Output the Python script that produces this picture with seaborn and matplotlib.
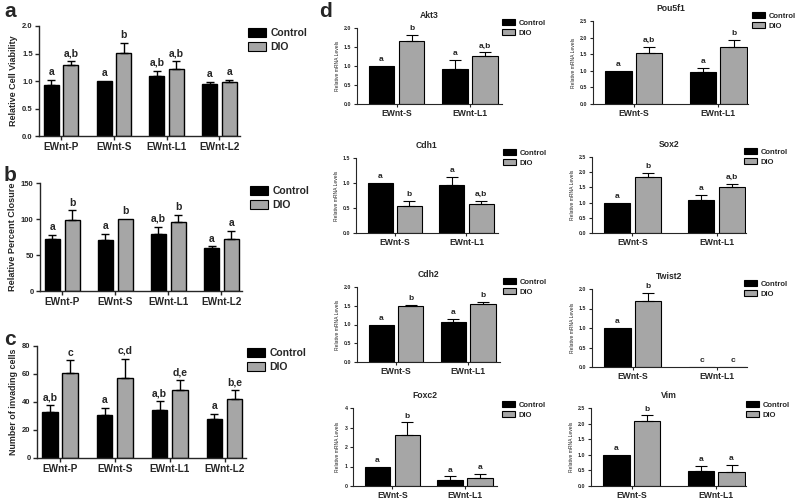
import numpy as np
import pandas as pd
import seaborn as sns
import matplotlib.pyplot as plt
from matplotlib.patches import Patch
from matplotlib.ticker import FormatStrFormatter

sns.set_style("ticks")
plt.rcParams['font.family'] = ['Liberation Sans', 'DejaVu Sans']

groups = ["Control", "DIO"]
lines_4 = ["EWnt-P", "EWnt-S", "EWnt-L1", "EWnt-L2"]
lines_2 = ["EWnt-S", "EWnt-L1"]

# panel a - relative cell viability
via_ctrl = [0.93, 1.00, 1.10, 0.95]
via_ctrl_err = [0.09, 0.0, 0.09, 0.03]
via_dio = [1.29, 1.51, 1.22, 0.98]
via_dio_err = [0.07, 0.19, 0.14, 0.04]
via_ctrl_let = ["a", "a", "a,b", "a"]
via_dio_let = ["a,b", "b", "a,b", "a"]

# panel b - relative percent closure
clo_ctrl = [72, 71, 79, 60]
clo_ctrl_err = [5.5, 8, 10.5, 2]
clo_dio = [99, 100, 95.5, 72]
clo_dio_err = [13, 0, 10, 12]
clo_ctrl_let = ["a", "a", "a,b", "a"]
clo_dio_let = ["b", "b", "b", "a"]

# panel c - number of invading cells
inv_ctrl = [32.8, 31, 34.2, 27.6]
inv_ctrl_err = [4.8, 4.8, 6.5, 4.1]
inv_dio = [61, 57.1, 48.3, 42.4]
inv_dio_err = [8.8, 13.9, 7.2, 5.9]
inv_ctrl_let = ["a,b", "a", "a,b", "a"]
inv_dio_let = ["c", "c,d", "d,e", "b,e"]

# panel d - relative mRNA levels
genes = ["Akt3", "Pou5f1", "Cdh1", "Sox2", "Cdh2", "Twist2", "Foxc2", "Vim"]
d_ctrl = [[1.0, 0.92], [1.0, 0.96], [1.0, 0.97], [1.0, 1.08],
          [1.0, 1.06], [1.0, 0.0], [1.0, 0.33], [1.0, 0.47]]
d_ctrl_err = [[0, 0.25], [0, 0.12], [0, 0.15], [0, 0.17],
              [0, 0.09], [0, 0], [0, 0.16], [0, 0.17]]
d_dio = [[1.65, 1.25], [1.55, 1.71], [0.55, 0.59], [1.83, 1.51],
         [1.50, 1.55], [1.70, 0.0], [2.62, 0.42], [2.08, 0.45]]
d_dio_err = [[0.17, 0.11], [0.18, 0.22], [0.10, 0.06], [0.16, 0.11],
             [0.03, 0.05], [0.20, 0], [0.64, 0.20], [0.18, 0.23]]
d_ctrl_let = [["a", "a"], ["a", "a"], ["a", "a"], ["a", "a"],
              ["a", "a"], ["a", "c"], ["a", "a"], ["a", "a"]]
d_dio_let = [["b", "a,b"], ["a,b", "b"], ["b", "a,b"], ["b", "a,b"],
             ["b", "b"], ["b", "c"], ["b", "a"], ["b", "a"]]
d_ymax = [2.0, 2.5, 1.5, 2.5, 2.0, 2.0, 4, 2.5]
d_ystep = [0.5, 0.5, 0.5, 0.5, 0.5, 0.5, 1, 0.5]

pal = {"Control": "black", "DIO": "#a6a6a6"}

W, H = 800, 501
fig = plt.figure(figsize=(8, 5.01), dpi=100)


def px_rect(x0, x1, y0, y1):
    return [x0 / W, 1 - y1 / H, (x1 - x0) / W, (y1 - y0) / H]


def draw(ax, cats, ctrl, ctrl_err, dio, dio_err, ctrl_let, dio_let,
         width, gap, xlim, ymax, ystep, fmt, big):
    n = len(cats)
    df = pd.DataFrame({
        "line": cats * 2,
        "group": ["Control"] * n + ["DIO"] * n,
        "mean": ctrl + dio,
        "err": ctrl_err + dio_err,
        "let": ctrl_let + dio_let,
    })
    lw = 1.0 if big else 0.8
    sns.barplot(df, x="line", y="mean", hue="group", order=cats, hue_order=groups,
                palette=pal, errorbar=None, width=width, gap=gap,
                edgecolor="black", linewidth=lw, legend=False, ax=ax)
    df["li"] = [cats.index(c) for c in df["line"]]
    df["gi"] = [groups.index(g) for g in df["group"]]
    df = df.sort_values(["li", "gi"]).reset_index(drop=True)
    bars = sorted(ax.patches, key=lambda p: p.get_x())
    cap = 3 if big else 4.5
    lsize = 7.5 if big else 6
    for p, (_, row) in zip(bars, df.iterrows()):
        x = p.get_x() + p.get_width() / 2
        top = row["mean"]
        if row["err"] > 0:
            ax.errorbar([x], [top], yerr=[[0], [row["err"]]], fmt="none",
                        ecolor="black", elinewidth=lw, capsize=cap, capthick=lw)
        ax.annotate(row["let"], (x, top + row["err"]), xytext=(0, 2),
                    textcoords="offset points", ha="center", va="bottom",
                    fontsize=lsize, fontweight="bold")
    ax.set_xlim(*xlim)
    ax.set_ylim(0, ymax)
    ax.set_yticks(np.arange(0, ymax + ystep / 2, ystep))
    ax.yaxis.set_major_formatter(FormatStrFormatter(fmt))
    ax.set_xlabel("")
    sns.despine(ax=ax)
    for s in ["left", "bottom"]:
        ax.spines[s].set_linewidth(lw)
    ax.tick_params(direction="out", length=3 if big else 2.5, width=lw, pad=1.5)
    ax.tick_params(axis="x", labelsize=7.2 if big else 6.2, pad=1.5 if big else 0.8)
    ax.tick_params(axis="y", labelsize=5.5 if big else 3.8)
    for t in ax.get_xticklabels():
        t.set_fontweight("bold")
    for t in ax.get_yticklabels():
        t.set_fontweight("bold")


def add_legend(ax, x, y, big):
    handles = [Patch(facecolor=pal[g], edgecolor="black", linewidth=0.8, label=g) for g in groups]
    leg = ax.legend(handles=handles, loc="upper left", bbox_to_anchor=(x / W, 1 - y / H),
                    bbox_transform=fig.transFigure, frameon=False, borderpad=0,
                    borderaxespad=0, handlelength=1.7 if big else 1.7,
                    handleheight=1.0 if big else 0.9,
                    handletextpad=0.45 if big else 0.5,
                    labelspacing=0.35 if big else 0.3,
                    prop={"size": 7.5 if big else 5.5, "weight": "bold"})
    return leg


# left column
ax_a = fig.add_axes(px_rect(39, 240, 26, 136))
draw(ax_a, lines_4, via_ctrl, via_ctrl_err, via_dio, via_dio_err, via_ctrl_let, via_dio_let,
     0.74, 0.24, (-0.42, 3.39), 2.0, 0.5, "%.1f", True)
ax_a.set_ylabel("Relative Cell Viability", fontsize=6.5, fontweight="bold", labelpad=3)
add_legend(ax_a, 248, 28, True)

ax_b = fig.add_axes(px_rect(40, 242, 183, 291))
draw(ax_b, lines_4, clo_ctrl, clo_ctrl_err, clo_dio, clo_dio_err, clo_ctrl_let, clo_dio_let,
     0.74, 0.24, (-0.42, 3.39), 150, 50, "%d", True)
ax_b.set_ylabel("Relative Percent Closure", fontsize=6.6, fontweight="bold", labelpad=3)
add_legend(ax_b, 250, 186, True)

ax_c = fig.add_axes(px_rect(37, 246, 346, 458))
draw(ax_c, lines_4, inv_ctrl, inv_ctrl_err, inv_dio, inv_dio_err, inv_ctrl_let, inv_dio_let,
     0.74, 0.24, (-0.42, 3.39), 80, 20, "%d", True)
ax_c.set_ylabel("Number of invading cells", fontsize=6.4, fontweight="bold", labelpad=3)
add_legend(ax_c, 247, 348, True)

# panel d grid
d_rects = [(357, 502, 28, 104), (593, 748, 21, 104),
           (356, 498, 158, 233), (592, 746, 157, 233),
           (357, 500, 287, 362), (592, 747, 289, 367),
           (353, 497, 408, 486), (591, 746, 408, 486)]
d_leg = [(502, 19), (752, 12), (503, 149), (744, 148),
         (503, 278), (744, 280), (502, 401), (746, 401)]

for i, gene in enumerate(genes):
    ax = fig.add_axes(px_rect(*d_rects[i]))
    left = i % 2 == 0
    width, gap, xlim = (0.82, 0.15, (-0.54, 1.44)) if left else (0.72, 0.14, (-0.48, 1.35))
    fmt = "%d" if d_ystep[i] >= 1 else "%.1f"
    draw(ax, lines_2, d_ctrl[i], d_ctrl_err[i], d_dio[i], d_dio_err[i],
         d_ctrl_let[i], d_dio_let[i], width, gap, xlim, d_ymax[i], d_ystep[i], fmt, False)
    ax.set_title(gene, fontsize=6.2, fontweight="bold", pad=7)
    ax.set_ylabel("Relative mRNA Levels", fontsize=3.6, labelpad=3)
    add_legend(ax, *d_leg[i], False)

fig.text(4 / W, 1 - 2 / H, "a", fontsize=15, fontweight="bold", va="top")
fig.text(4 / W, 1 - 166 / H, "b", fontsize=15, fontweight="bold", va="top")
fig.text(4 / W, 1 - 330 / H, "c", fontsize=15, fontweight="bold", va="top")
fig.text(319 / W, 1 - 2 / H, "d", fontsize=15, fontweight="bold", va="top")

fig.savefig("out.png", dpi=100, facecolor="white")
